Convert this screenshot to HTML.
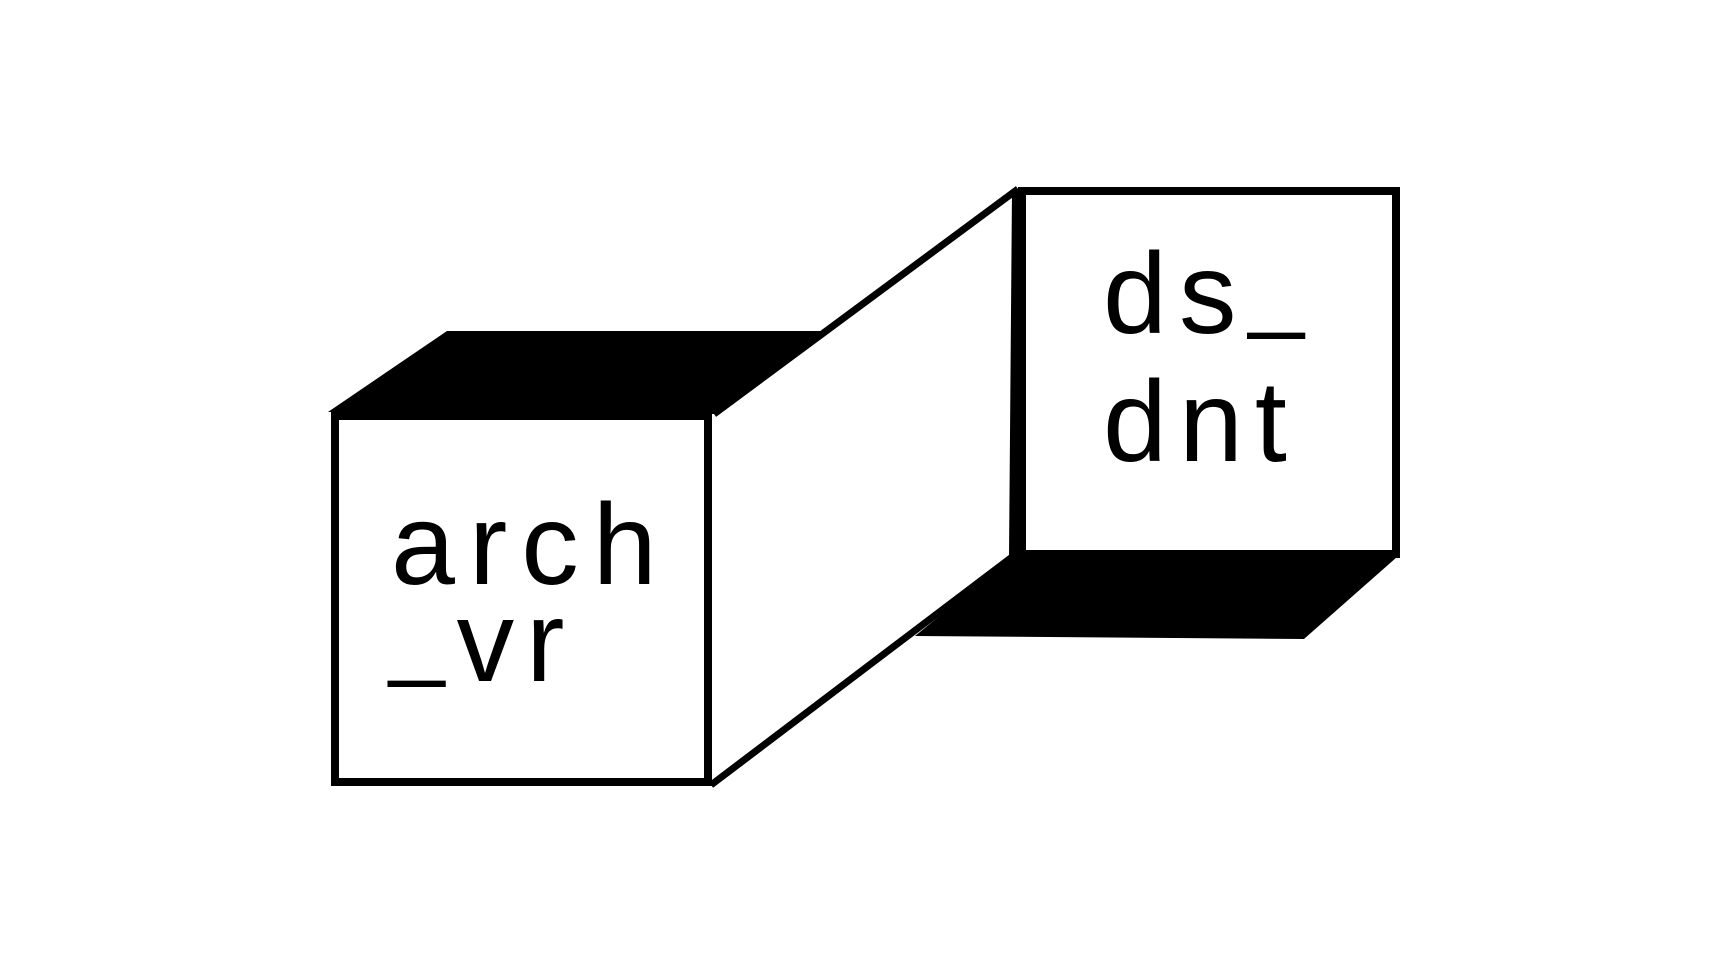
<!DOCTYPE html>
<html><head><meta charset="utf-8"><style>
html,body{margin:0;padding:0;background:#fff;width:1728px;height:972px;overflow:hidden}
</style></head><body>
<svg width="1728" height="972" viewBox="0 0 1728 972" xmlns="http://www.w3.org/2000/svg">
<rect width="1728" height="972" fill="#fff"/>
<polygon points="328,412 447,331 821,331 714,414" fill="#000"/>
<polygon points="1012,557 1397,557 1304,639 915,636 " fill="#000"/>
<line x1="714" y1="414" x2="1018" y2="189" stroke="#000" stroke-width="7"/>
<line x1="711" y1="785" x2="1012" y2="557" stroke="#000" stroke-width="7"/>
<polygon points="1012,191 1022,191 1022,557 1009,557" fill="#000"/>
<rect x="335" y="416" width="373" height="366" fill="#fff" stroke="#000" stroke-width="8"/>
<rect x="1022" y="191" width="374" height="363" fill="#fff" stroke="#000" stroke-width="8"/>
<g font-family="Liberation Sans, sans-serif" font-size="115" fill="#000" letter-spacing="12">
<text x="391" y="584" letter-spacing="14">arch</text>
<text x="389" y="681"><tspan font-size="100" dy="-14">_</tspan><tspan dy="14">vr</tspan></text>
<text x="1103" y="333">ds<tspan font-size="100" dy="-14">_</tspan></text>
<text x="1103" y="461">dnt</text>
</g>
</svg>
</body></html>
